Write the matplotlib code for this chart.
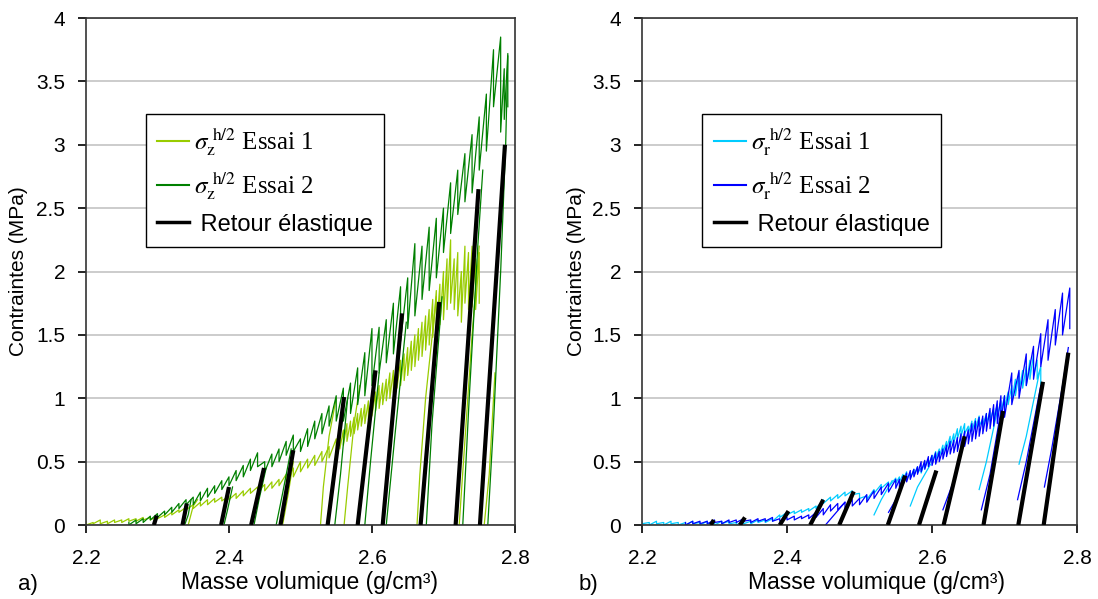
import matplotlib
matplotlib.use('Agg')
import matplotlib.pyplot as plt
from matplotlib.lines import Line2D

plt.rcParams['font.family'] = ['Liberation Sans', 'DejaVu Sans']
plt.rcParams['mathtext.fontset'] = 'stix'

# ---- data ----
yticks = [0, 0.5, 1, 1.5, 2, 2.5, 3, 3.5, 4]
ytick_labels = ['0', '0.5', '1', '1.5', '2', '2.5', '3', '3.5', '4']
xticks = [2.2, 2.4, 2.6, 2.8]
xtick_labels = ['2.2', '2.4', '2.6', '2.8']

# sawtooth: x of each cycle, peak and valley stress
x_e1 = [2.20, 2.21, 2.22, 2.23, 2.24, 2.25, 2.26, 2.27, 2.28, 2.29,
        2.30, 2.31, 2.32, 2.33, 2.34, 2.35, 2.36, 2.37, 2.38, 2.39,
        2.40, 2.41, 2.42, 2.43, 2.44, 2.45, 2.46, 2.47, 2.48, 2.49,
        2.50, 2.51, 2.52, 2.53, 2.54, 2.55,
        2.555, 2.56, 2.565, 2.57, 2.575, 2.58, 2.585, 2.59, 2.595, 2.60,
        2.605, 2.61, 2.615, 2.62, 2.625, 2.63, 2.635, 2.64, 2.645, 2.65,
        2.655, 2.66, 2.665, 2.67, 2.675, 2.68, 2.685, 2.69, 2.695, 2.70,
        2.705, 2.71, 2.715, 2.72, 2.725, 2.73, 2.735, 2.74, 2.745, 2.75]

x_e2_left = [2.26, 2.27, 2.28, 2.29, 2.30, 2.31, 2.32, 2.33, 2.34, 2.35,
             2.36, 2.37, 2.38, 2.39, 2.40, 2.41, 2.42, 2.43, 2.44, 2.45,
             2.46, 2.47, 2.48, 2.49, 2.50, 2.51, 2.52, 2.53, 2.54, 2.55,
             2.56, 2.57, 2.58, 2.59, 2.60, 2.61, 2.62, 2.63, 2.64, 2.65,
             2.66, 2.67, 2.68, 2.69,
             2.70, 2.71, 2.72, 2.73, 2.74, 2.75, 2.76, 2.77, 2.78,
             2.785, 2.79]

x_e2_right = [2.26, 2.27, 2.28, 2.29, 2.30, 2.31, 2.32, 2.33, 2.34, 2.35,
              2.36, 2.37, 2.38, 2.39, 2.40, 2.41, 2.42, 2.43, 2.44, 2.45,
              2.46, 2.47, 2.48, 2.49, 2.50, 2.51, 2.52, 2.53, 2.54, 2.55,
              2.555, 2.56, 2.565, 2.57, 2.575, 2.58, 2.585, 2.59, 2.595, 2.60,
              2.605, 2.61, 2.615, 2.62, 2.625, 2.63, 2.635, 2.64, 2.645, 2.65,
              2.655, 2.66, 2.665, 2.67, 2.675, 2.68, 2.685, 2.69, 2.695,
              2.70, 2.71, 2.72, 2.73, 2.74, 2.75, 2.76, 2.77, 2.78, 2.79]

# a) sigma_z, essai 1
sz1_top = [0.03, 0.02, 0.04, 0.03, 0.04, 0.04, 0.05, 0.05, 0.06, 0.06,
           0.07, 0.08, 0.1, 0.12, 0.14, 0.16, 0.18, 0.2, 0.21, 0.22,
           0.23, 0.25, 0.27, 0.29, 0.3, 0.32, 0.34, 0.36, 0.4, 0.45,
           0.5, 0.52, 0.55, 0.58, 0.62, 0.68,
           0.72, 0.75, 0.8, 0.82, 0.85, 0.88, 0.92, 0.95, 0.98, 1.02,
           1.05, 1.1, 1.12, 1.15, 1.2, 1.22, 1.28, 1.3, 1.35, 1.4,
           1.45, 1.5, 1.55, 1.6, 1.65, 1.7, 1.78, 1.85, 1.9, 2.0,
           2.1, 2.25, 2.1, 2.15, 2.0, 2.2, 2.15, 2.2, 2.1, 2.15]
sz1_bot = [0.0, 0.01, 0.01, 0.01, 0.02, 0.02, 0.03, 0.03, 0.04, 0.04,
           0.05, 0.06, 0.08, 0.1, 0.12, 0.13, 0.15, 0.16, 0.18, 0.19,
           0.2, 0.21, 0.23, 0.25, 0.26, 0.27, 0.29, 0.31, 0.34, 0.38,
           0.42, 0.45, 0.47, 0.5, 0.53, 0.57,
           0.6, 0.63, 0.66, 0.7, 0.72, 0.75, 0.78, 0.8, 0.83, 0.86,
           0.9, 0.92, 0.95, 0.98, 1.0, 1.04, 1.08, 1.1, 1.14, 1.18,
           1.22, 1.25, 1.3, 1.33, 1.38, 1.42, 1.48, 1.52, 1.58, 1.62,
           1.7, 1.75, 1.7, 1.65, 1.6, 1.75, 1.7, 1.72, 1.7, 1.75]

# a) sigma_z, essai 2
sz2_top = [0.02, 0.04, 0.05, 0.07, 0.09, 0.11, 0.14, 0.17, 0.2, 0.22,
           0.26, 0.29, 0.31, 0.35, 0.38, 0.43, 0.47, 0.52, 0.57, 0.5,
           0.56, 0.6, 0.66, 0.71, 0.68, 0.76, 0.82, 0.88, 0.94, 1.02,
           1.08, 1.12, 1.24, 1.36, 1.55, 1.56, 1.62, 1.75, 1.88, 1.95,
           2.22, 2.2, 2.35, 2.42,
           2.5, 2.7, 2.8, 2.93, 3.08, 3.22, 3.4, 3.75, 3.85,
           3.6, 3.72]
sz2_bot = [0.0, 0.01, 0.02, 0.04, 0.06, 0.08, 0.1, 0.13, 0.16, 0.16,
           0.19, 0.22, 0.25, 0.28, 0.31, 0.35, 0.38, 0.43, 0.46, 0.42,
           0.46, 0.5, 0.55, 0.58, 0.58, 0.62, 0.68, 0.72, 0.78, 0.82,
           0.82, 0.88, 0.95, 1.02, 1.1, 1.2, 1.28, 1.35, 1.45, 1.55,
           1.65, 1.78, 1.85, 1.95,
           2.15, 2.3, 2.45, 2.55, 2.62, 2.8, 2.95, 3.3, 3.1,
           3.2, 3.3]

# b) sigma_r, essai 1
sr1_top = [0.03, 0.02, 0.03, 0.02, 0.03, 0.02, 0.02, 0.03, 0.02, 0.03,
           0.02, 0.03, 0.03, 0.02, 0.03, 0.03, 0.04, 0.04, 0.05, 0.08,
           0.1, 0.11, 0.12, 0.13, 0.15, 0.2, 0.22, 0.24, 0.26, 0.27,
           0.25, 0.23, 0.28, 0.32, 0.34, 0.37,
           0.38, 0.4, 0.42, 0.4, 0.44, 0.46, 0.45, 0.5, 0.52, 0.55,
           0.58, 0.6, 0.63, 0.66, 0.7, 0.72, 0.76, 0.78, 0.8, 0.78,
           0.82, 0.84, 0.86, 0.84, 0.88, 0.9, 0.92, 0.95, 0.98, 1.02,
           1.05, 1.1, 1.15, 1.2, 1.22, 1.25, 1.3, 1.35, 1.3, 1.25]
sr1_bot = [0.01, 0.0, 0.01, 0.0, 0.01, 0.0, 0.0, 0.01, 0.0, 0.01,
           0.0, 0.01, 0.01, 0.0, 0.01, 0.01, 0.02, 0.02, 0.03, 0.06,
           0.08, 0.09, 0.1, 0.11, 0.13, 0.17, 0.19, 0.21, 0.23, 0.24,
           0.21, 0.2, 0.25, 0.29, 0.3, 0.33,
           0.34, 0.36, 0.37, 0.37, 0.39, 0.41, 0.41, 0.45, 0.47, 0.49,
           0.52, 0.54, 0.57, 0.6, 0.62, 0.65, 0.68, 0.7, 0.72, 0.72,
           0.74, 0.76, 0.78, 0.78, 0.8, 0.82, 0.84, 0.86, 0.88, 0.92,
           0.95, 0.98, 1.02, 1.06, 1.08, 1.1, 1.15, 1.18, 1.15, 1.1]

# b) sigma_r, essai 2
sr2_top = [0.02, 0.03, 0.03, 0.03, 0.04, 0.03, 0.04, 0.04, 0.05, 0.04,
           0.05, 0.05, 0.06, 0.05, 0.06, 0.07, 0.07, 0.08, 0.1, 0.13,
           0.16, 0.17, 0.18, 0.2, 0.21, 0.24, 0.27, 0.3, 0.33, 0.36,
           0.36, 0.38, 0.41, 0.43, 0.44, 0.46, 0.5, 0.51, 0.54, 0.55,
           0.57, 0.58, 0.6, 0.63, 0.66, 0.67, 0.69, 0.72, 0.74, 0.75,
           0.8, 0.82, 0.85, 0.86, 0.88, 0.92, 0.95, 0.98, 1.02,
           1.02, 1.2, 1.22, 1.35, 1.41, 1.51, 1.62, 1.7, 1.83, 1.87]
sr2_bot = [0.0, 0.01, 0.01, 0.01, 0.02, 0.01, 0.02, 0.02, 0.03, 0.02,
           0.03, 0.03, 0.03, 0.03, 0.04, 0.04, 0.05, 0.05, 0.06, 0.08,
           0.11, 0.12, 0.13, 0.15, 0.16, 0.18, 0.21, 0.24, 0.26, 0.29,
           0.3, 0.32, 0.34, 0.36, 0.38, 0.4, 0.42, 0.44, 0.46, 0.47,
           0.48, 0.5, 0.52, 0.54, 0.56, 0.57, 0.58, 0.6, 0.62, 0.64,
           0.66, 0.68, 0.7, 0.72, 0.74, 0.76, 0.78, 0.8, 0.82,
           0.85, 0.95, 1.0, 1.1, 1.15, 1.25, 1.3, 1.42, 1.5, 1.55]

# reloading curves after each full unload: (x list, y list)
sz1_reload = [([2.343, 2.35, 2.356], [0.0, 0.15, 0.2]),
              ([2.475, 2.483, 2.49], [0.0, 0.25, 0.5]),
              ([2.528, 2.532, 2.54, 2.55], [0.0, 0.3, 0.7, 1.0]),
              ([2.561, 2.566, 2.575, 2.583], [0.0, 0.3, 0.8, 1.1]),
              ([2.663, 2.667, 2.675, 2.69], [0.0, 0.4, 1.0, 1.8]),
              ([2.722, 2.728, 2.74, 2.75], [0.0, 0.5, 1.5, 2.2]),
              ([2.757, 2.764, 2.772], [0.0, 0.4, 1.2])]
sz2_reload = [([2.338, 2.343, 2.347], [0.0, 0.08, 0.2]),
              ([2.393, 2.398, 2.405], [0.0, 0.12, 0.3]),
              ([2.435, 2.442, 2.452], [0.0, 0.2, 0.45]),
              ([2.466, 2.475, 2.487], [0.0, 0.25, 0.6]),
              ([2.548, 2.556, 2.566], [0.0, 0.4, 1.0]),
              ([2.59, 2.598, 2.61], [0.0, 0.5, 1.2]),
              ([2.62, 2.632, 2.648], [0.0, 0.7, 1.6]),
              ([2.676, 2.684, 2.698], [0.0, 0.8, 1.8]),
              ([2.727, 2.736, 2.748, 2.755], [0.0, 1.0, 2.2, 2.8]),
              ([2.762, 2.77, 2.78, 2.787, 2.79], [0.0, 0.8, 2.0, 3.0, 3.7])]
sr1_reload = [([2.52, 2.53, 2.545], [0.08, 0.2, 0.35]),
              ([2.57, 2.58, 2.598], [0.15, 0.3, 0.48]),
              ([2.665, 2.675, 2.69], [0.28, 0.5, 0.9]),
              ([2.72, 2.73, 2.748], [0.48, 0.7, 1.2])]
sr2_reload = [([2.453, 2.465, 2.48], [0.0, 0.08, 0.18]),
              ([2.54, 2.55, 2.565], [0.1, 0.2, 0.38]),
              ([2.615, 2.63, 2.645], [0.12, 0.35, 0.68]),
              ([2.668, 2.68, 2.695], [0.12, 0.4, 0.9]),
              ([2.718, 2.73, 2.75], [0.2, 0.5, 1.1]),
              ([2.755, 2.765, 2.78, 2.788], [0.3, 0.6, 1.1, 1.4])]

# elastic return lines (foot on the x axis, top end)
ret_a_x0 = [2.295, 2.335, 2.389, 2.431, 2.472, 2.538, 2.58, 2.615, 2.668, 2.717, 2.751]
ret_a_x1 = [2.299, 2.341, 2.40, 2.449, 2.49, 2.561, 2.605, 2.642, 2.694, 2.749, 2.786]
ret_a_y1 = [0.075, 0.17, 0.3, 0.45, 0.59, 1.01, 1.22, 1.67, 1.76, 2.65, 3.0]
ret_b_x0 = [2.295, 2.335, 2.39, 2.432, 2.472, 2.539, 2.582, 2.616, 2.671, 2.719, 2.754]
ret_b_x1 = [2.299, 2.342, 2.402, 2.45, 2.492, 2.563, 2.606, 2.645, 2.698, 2.753, 2.788]
ret_b_y1 = [0.04, 0.06, 0.11, 0.2, 0.265, 0.39, 0.43, 0.7, 0.9, 1.13, 1.36]


def saw(x, top, bot):
    xs, ys = [], []
    for xi, t, b in zip(x, top, bot):
        xs += [xi, xi]
        ys += [t, b]
    return xs, ys


def draw_panel(ax, tests, ret_x0, ret_x1, ret_y1, labels):
    for x, top, bot, reloads, col in tests:
        xs, ys = saw(x, top, bot)
        ax.plot(xs, ys, color=col, lw=0.9, zorder=2)
        for rx, ry in reloads:
            ax.plot(rx, ry, color=col, lw=0.9, zorder=2)
    for a, b, c in zip(ret_x0, ret_x1, ret_y1):
        ax.plot([a, b], [0, c], color='black', lw=3, solid_capstyle='butt', zorder=3)

    ax.set_xlim(2.2, 2.8)
    ax.set_ylim(0, 4)
    ax.set_xticks(xticks)
    ax.set_xticklabels(xtick_labels)
    ax.set_yticks(yticks)
    ax.set_yticklabels(ytick_labels)
    ax.tick_params(axis='x', direction='out', length=6, width=1.2, labelsize=15, pad=11)
    ax.tick_params(axis='y', direction='out', length=6, width=1.2, labelsize=15, pad=9)
    ax.yaxis.grid(True, color='#c8c8c8', lw=1.3, zorder=0)
    ax.set_axisbelow(True)
    for s in ax.spines.values():
        s.set_color('#333333')
        s.set_linewidth(1.2)

    handles = [Line2D([], [], color=tests[0][4], lw=1.5),
               Line2D([], [], color=tests[1][4], lw=1.5),
               Line2D([], [], color='black', lw=2.5)]
    leg = ax.legend(handles, labels, loc='upper left', bbox_to_anchor=(0.139, 0.81),
                    frameon=True, fancybox=False, edgecolor='black', framealpha=1,
                    prop={'family': 'Liberation Serif', 'size': 18},
                    handlelength=1.3, handletextpad=0.2, labelspacing=0.45,
                    borderpad=0.45, borderaxespad=0)
    leg.get_frame().set_linewidth(1.0)
    leg.get_texts()[2].set_fontfamily('Liberation Sans')
    leg.get_texts()[2].set_fontsize(17)


fig = plt.figure(figsize=(10.98, 5.99), dpi=100)
ax_a = fig.add_axes([0.0783, 0.1235, 0.3907, 0.8464])
ax_b = fig.add_axes([0.5847, 0.1235, 0.3962, 0.8464])

draw_panel(ax_a,
           [(x_e1, sz1_top, sz1_bot, sz1_reload, '#99cc00'),
            (x_e2_left, sz2_top, sz2_bot, sz2_reload, '#008000')],
           ret_a_x0, ret_a_x1, ret_a_y1,
           [r'$\sigma_{\mathrm{z}}^{\ \mathrm{h/2}}$ Essai 1',
            r'$\sigma_{\mathrm{z}}^{\ \mathrm{h/2}}$ Essai 2',
            ' Retour élastique'])
draw_panel(ax_b,
           [(x_e1, sr1_top, sr1_bot, sr1_reload, '#00ccff'),
            (x_e2_right, sr2_top, sr2_bot, sr2_reload, '#0000ff')],
           ret_b_x0, ret_b_x1, ret_b_y1,
           [r'$\sigma_{\mathrm{r}}^{\ \mathrm{h/2}}$ Essai 1',
            r'$\sigma_{\mathrm{r}}^{\ \mathrm{h/2}}$ Essai 2',
            ' Retour élastique'])

fig.text(0.282, 0.028, 'Masse volumique (g/cm³)', fontsize=16.5, ha='center', va='center')
fig.text(0.798, 0.028, 'Masse volumique (g/cm³)', fontsize=16.5, ha='center', va='center')
fig.text(0.0173, 0.547, 'Contraintes (MPa)', fontsize=15, rotation=90, ha='center', va='center')
fig.text(0.5246, 0.547, 'Contraintes (MPa)', fontsize=15, rotation=90, ha='center', va='center')
fig.text(0.0255, 0.025, 'a)', fontsize=16, ha='center', va='center')
fig.text(0.536, 0.025, 'b)', fontsize=16, ha='center', va='center')

fig.savefig('out.png', dpi=100)
